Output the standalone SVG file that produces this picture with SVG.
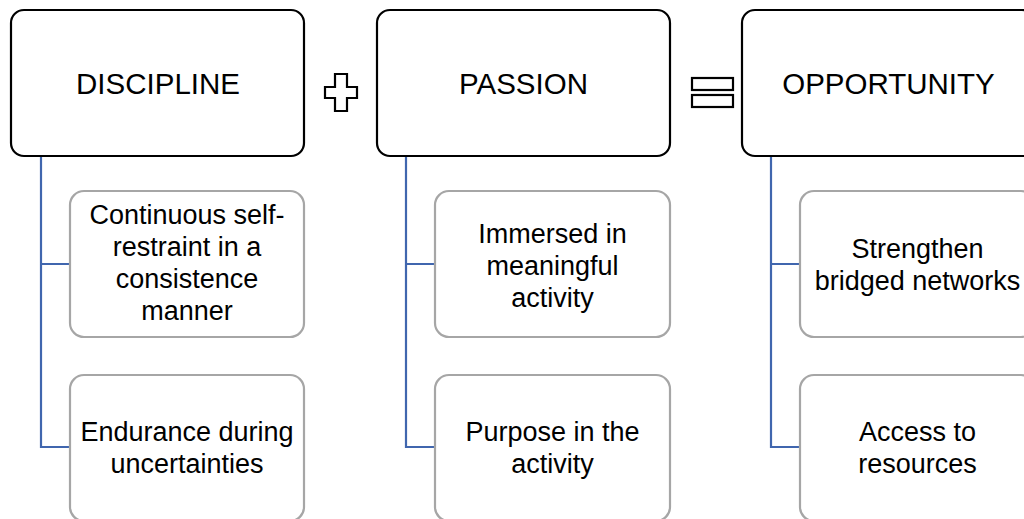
<svg xmlns="http://www.w3.org/2000/svg" width="1024" height="519" viewBox="0 0 1024 519">
<style>
.head{fill:#fff;stroke:#000;stroke-width:2.2}
.child{fill:#fff;stroke:#a6a6a6;stroke-width:2.2}
.ht{font-family:"Liberation Sans",Arial,sans-serif;font-size:29.5px;fill:#000;text-anchor:middle}
.ct{font-family:"Liberation Sans",Arial,sans-serif;font-size:27px;fill:#000;text-anchor:middle}
.conn{fill:none;stroke:#4066ae;stroke-width:2.2}
.op{fill:#fff;stroke:#000;stroke-width:2.2}
</style>
<rect width="1024" height="519" fill="#fff"/>
<g id="connectors">
<path class="conn" d="M41,156 V447 H70 M41,264 H70"/>
<path class="conn" d="M406,156 V447 H435 M406,264 H435"/>
<path class="conn" d="M771,156 V447 H800 M771,264 H800"/>
</g>
<g id="discipline">
<rect class="head" x="11" y="10" width="293" height="146" rx="13"/>
<text class="ht" x="158" y="94">DISCIPLINE</text>
</g>
<g id="discipline-1">
<rect class="child" x="70" y="191" width="234" height="146" rx="14"/>
<text class="ct" x="187" y="224">Continuous self-</text>
<text class="ct" x="187" y="256">restraint in a</text>
<text class="ct" x="187" y="288">consistence</text>
<text class="ct" x="187" y="320">manner</text>
</g>
<g id="discipline-2">
<rect class="child" x="70" y="375" width="234" height="146" rx="14"/>
<text class="ct" x="187" y="441">Endurance during</text>
<text class="ct" x="187" y="473">uncertainties</text>
</g>
<g id="plus">
<path class="op" d="M335,74 H347 V87 H357 V98 H347 V111 H335 V98 H325 V87 H335 Z"/>
</g>
<g id="passion">
<rect class="head" x="377" y="10" width="293" height="146" rx="13"/>
<text class="ht" x="523.5" y="94">PASSION</text>
</g>
<g id="passion-1">
<rect class="child" x="435" y="191" width="235" height="146" rx="14"/>
<text class="ct" x="552.5" y="243">Immersed in</text>
<text class="ct" x="552.5" y="275">meaningful</text>
<text class="ct" x="552.5" y="307">activity</text>
</g>
<g id="passion-2">
<rect class="child" x="435" y="375" width="235" height="146" rx="14"/>
<text class="ct" x="552.5" y="441">Purpose in the</text>
<text class="ct" x="552.5" y="473">activity</text>
</g>
<g id="equals">
<rect class="op" x="692" y="78" width="41" height="12"/>
<rect class="op" x="692" y="95" width="41" height="12"/>
</g>
<g id="opportunity">
<rect class="head" x="742" y="10" width="293" height="146" rx="13"/>
<text class="ht" x="888.5" y="94">OPPORTUNITY</text>
</g>
<g id="opportunity-1">
<rect class="child" x="800" y="191" width="235" height="146" rx="14"/>
<text class="ct" x="917.5" y="258">Strengthen</text>
<text class="ct" x="917.5" y="290">bridged networks</text>
</g>
<g id="opportunity-2">
<rect class="child" x="800" y="375" width="235" height="146" rx="14"/>
<text class="ct" x="917.5" y="441">Access to</text>
<text class="ct" x="917.5" y="473">resources</text>
</g>
</svg>
